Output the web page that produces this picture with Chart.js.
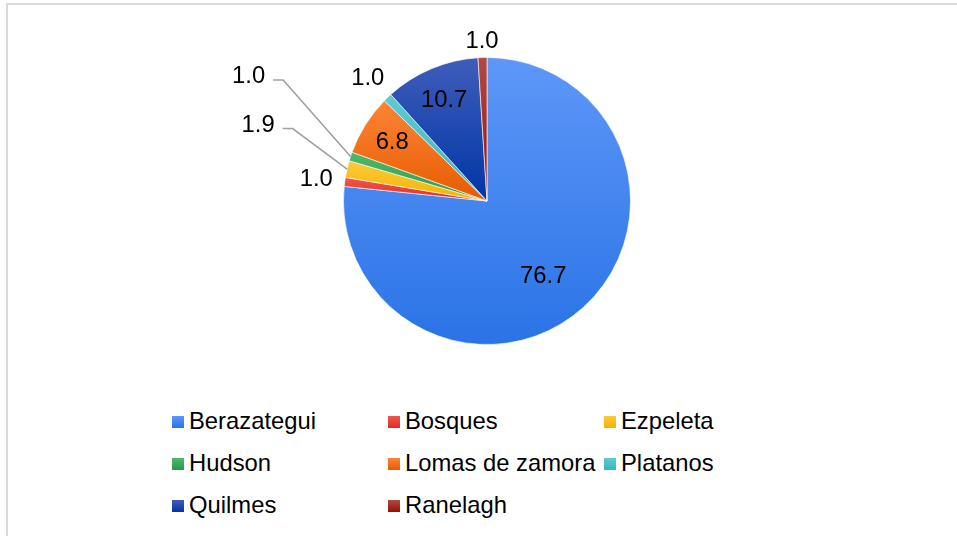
<!DOCTYPE html>
<html>
<head>
<meta charset="utf-8">
<script src="https://cdn.jsdelivr.net/npm/chart.js@4"></script>
<style>
  html, body { margin: 0; padding: 0; background: #fff; overflow: hidden; }
  body { width: 957px; height: 536px; position: relative; font-family: "Liberation Sans", Arial, sans-serif; }
  #frame { position: absolute; left: 6px; top: 3px; width: 1000px; height: 600px;
           border-top: 2px solid #d9d9d9; border-left: 2px solid #d9d9d9; }
  #pie { position: absolute; left: 0; top: 0; }
  #legend { position: absolute; left: 172px; top: 400px; display: grid;
            grid-template-columns: 216px 216px 216px; }
  .item { display: flex; align-items: center; height: 42px; font-size: 23.8px; color: #000; white-space: nowrap; }
  .box { width: 12px; height: 12px; margin-right: 5px; margin-top: 2px; }
</style>
</head>
<body>
<div id="frame"></div>
<canvas id="pie" width="957" height="400"></canvas>
<div id="legend"></div>
<script>
const categories = ['Berazategui', 'Bosques', 'Ezpeleta', 'Hudson', 'Lomas de zamora', 'Platanos', 'Quilmes', 'Ranelagh'];
const shares = [76.7, 1.0, 1.9, 1.0, 6.8, 1.0, 10.7, 1.0];

// gradient ends per slice (top, bottom)
const topColors = ['#5e97f8', '#f0564e', '#fdca3c', '#4fba6a', '#fd8436', '#5fcbd2', '#3f5dba', '#b24a43'];
const bottomColors = ['#2a73e6', '#e22c24', '#f2b300', '#28994a', '#e65c00', '#38b6be', '#0035a6', '#980f04'];

// label placement: 'in' (fraction of radius, angle shift in deg), 'out', or 'lead' (offset from edge)
const labelModes = [
  { mode: 'in', f: 0.65, da: 5 },
  { mode: 'out' },
  { mode: 'lead', dx: -89, dy: -45 },
  { mode: 'lead', dx: -102, dy: -81 },
  { mode: 'in', f: 0.78, da: 0 },
  { mode: 'out' },
  { mode: 'in', f: 0.77, da: 0 },
  { mode: 'out' }
];

const labelFont = '23.8px "Liberation Sans", Arial, sans-serif';

const sliceFill = {
  id: 'sliceFill',
  beforeDatasetsDraw(chart) {
    const ctx = chart.ctx;
    chart.getDatasetMeta(0).data.forEach((arc, i) => {
      const p = arc.getProps(['x', 'y', 'startAngle', 'endAngle', 'outerRadius'], true);
      const ys = [p.y, p.y + p.outerRadius * Math.sin(p.startAngle), p.y + p.outerRadius * Math.sin(p.endAngle)];
      [-Math.PI / 2, Math.PI / 2, 3 * Math.PI / 2].forEach(a => {
        if (a >= p.startAngle && a <= p.endAngle) ys.push(p.y + p.outerRadius * Math.sin(a));
      });
      const g = ctx.createLinearGradient(0, Math.min(...ys), 0, Math.max(...ys));
      g.addColorStop(0, topColors[i]);
      g.addColorStop(1, bottomColors[i]);
      arc.options = Object.assign({}, arc.options, { backgroundColor: g });
    });
  }
};

const sliceLabels = {
  id: 'sliceLabels',
  afterDatasetsDraw(chart) {
    const ctx = chart.ctx;
    ctx.save();
    ctx.font = labelFont;
    ctx.fillStyle = '#000';
    ctx.textAlign = 'center';
    ctx.textBaseline = 'middle';
    chart.getDatasetMeta(0).data.forEach((arc, i) => {
      const p = arc.getProps(['x', 'y', 'startAngle', 'endAngle', 'outerRadius'], true);
      const m = labelModes[i];
      const mid = (p.startAngle + p.endAngle) / 2 + ((m.da || 0) * Math.PI / 180);
      const c = Math.cos(mid), s = Math.sin(mid);
      const txt = shares[i].toFixed(1);
      const w = ctx.measureText(txt).width;
      let lx, ly;
      if (m.mode === 'in') {
        lx = p.x + c * p.outerRadius * m.f;
        ly = p.y + s * p.outerRadius * m.f;
      } else if (m.mode === 'out') {
        const d = p.outerRadius + 6 + Math.abs(c) * (w / 2 + 5) + Math.abs(s) * 10.5;
        lx = p.x + c * d;
        ly = p.y + s * d;
      } else {
        const ex = p.x + c * p.outerRadius, ey = p.y + s * p.outerRadius;
        lx = ex + m.dx;
        ly = ey + m.dy;
        const right = lx + w / 2;
        ctx.strokeStyle = '#a0a0a0';
        ctx.lineWidth = 1.6;
        ctx.beginPath();
        ctx.moveTo(right + 8, ly + 4.5);
        ctx.lineTo(right + 18, ly + 4.5);
        ctx.lineTo(ex, ey);
        ctx.stroke();
      }
      ctx.fillText(txt, lx, ly + 1);
    });
    ctx.restore();
  }
};

new Chart(document.getElementById('pie').getContext('2d'), {
  type: 'pie',
  data: {
    labels: categories,
    datasets: [{
      data: shares,
      backgroundColor: (c) => bottomColors[c.dataIndex],
      borderColor: 'rgba(255,255,255,0.6)',
      borderWidth: 1
    }]
  },
  options: {
    responsive: false,
    animation: false,
    layout: { padding: { left: 17, right: 0, top: 57, bottom: 55 } },
    plugins: {
      legend: { display: false },
      tooltip: { enabled: false }
    }
  },
  plugins: [sliceFill, sliceLabels]
});

// legend grid
const legend = document.getElementById('legend');
categories.forEach((name, i) => {
  const item = document.createElement('div');
  item.className = 'item';
  const box = document.createElement('span');
  box.className = 'box';
  box.style.background = 'linear-gradient(' + topColors[i] + ', ' + bottomColors[i] + ')';
  item.appendChild(box);
  item.appendChild(document.createTextNode(name));
  legend.appendChild(item);
});
</script>
</body>
</html>
